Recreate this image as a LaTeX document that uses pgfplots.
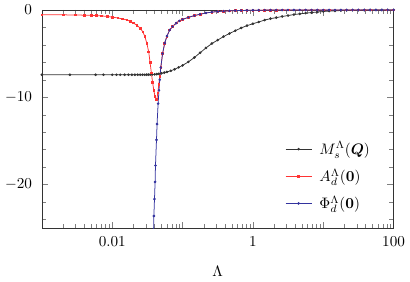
\documentclass[border=0pt]{standalone}
\usepackage{amsmath}
\usepackage{pgfplots}
\pgfplotsset{compat=1.18}
\definecolor{cblack}{rgb}{0.2,0.2,0.2}
\definecolor{cred}{rgb}{1,0.2,0.2}
\definecolor{cblue}{rgb}{0.2,0.2,0.62}
\begin{document}
\begin{tikzpicture}
\begin{axis}[
  scale only axis, width=232pt, height=144pt,
  xmode=log, xmin=0.001, xmax=100, ymin=-25, ymax=0,
  xtick={0.001,0.01,0.1,1,10,100},
  xticklabels={,$0.01$,,$1$,,$100$},
  minor xtick={0.002,0.003,0.004,0.005,0.006,0.007,0.008,0.009,0.02,0.03,0.04,0.05,0.06,0.07,0.08,0.09,0.2,0.3,0.4,0.5,0.6,0.7,0.8,0.9,2,3,4,5,6,7,8,9,20,30,40,50,60,70,80,90},
  ytick={-20,-10,0},
  minor ytick={-24,-22,-18,-16,-14,-12,-8,-6,-4,-2},
  yticklabel style={xshift=-3pt},
  xticklabel style={yshift=-2pt},
  xlabel={$\Lambda$},
  xlabel style={yshift=-6pt},
  axis line style={cblack},
  legend style={at={(0.955,0.05)}, anchor=south east, draw=none, fill=none, row sep=4pt, column sep=3pt},
  legend cell align=left,
  every axis plot/.append style={line width=0.5pt, mark=*, mark size=0.6pt},
]
\addplot[cblack, mark options={fill=cblack}] coordinates {
(0.001,-7.42) (0.0025,-7.42) (0.0058,-7.42) (0.0075,-7.42) (0.01,-7.42) (0.0115,-7.42) (0.013,-7.42) (0.015,-7.42) (0.017,-7.42) (0.019,-7.42) (0.021,-7.42) (0.023,-7.42) (0.025,-7.42) (0.027,-7.42) (0.029,-7.42) (0.031,-7.41) (0.033,-7.41) (0.035,-7.40) (0.037,-7.39) (0.04,-7.38) (0.043,-7.35) (0.046,-7.32) (0.05,-7.26) (0.055,-7.18) (0.06,-7.10) (0.068,-6.97) (0.077,-6.80) (0.088,-6.58)
(0.1,-6.35) (0.121,-5.95) (0.147,-5.45) (0.178,-4.9) (0.215,-4.35) (0.261,-3.85) (0.316,-3.45) (0.383,-3.05) (0.464,-2.7) (0.562,-2.38) (0.681,-2.06) (0.825,-1.8) (1,-1.58) (1.21,-1.38) (1.47,-1.16) (1.78,-1.0) (2.15,-0.88) (2.61,-0.75) (3.16,-0.64) (3.83,-0.53) (4.64,-0.45) (5.62,-0.37) (6.81,-0.3) (8.25,-0.24) (10,-0.18) (12.1,-0.13) (14.7,-0.1) (17.8,-0.07) (21.5,-0.05) (26.1,-0.035) (31.6,-0.025) (38.3,-0.018) (46.4,-0.012) (56.2,-0.009) (68.1,-0.006) (82.5,-0.004) (100,-0.003)
};
\addlegendentry{$M_s^\Lambda(\boldsymbol{Q})$}
\addplot[cred, mark=square*, mark size=0.55pt, mark options={fill=cred}] coordinates {
(0.001,-0.55) (0.002,-0.56) (0.003,-0.58) (0.004,-0.6) (0.005,-0.62) (0.006,-0.65) (0.007,-0.68) (0.0085,-0.75) (0.01,-0.82) (0.012,-0.92) (0.014,-1.03) (0.0162,-1.15) (0.018,-1.3) (0.02,-1.5) (0.0224,-1.75) (0.025,-2.1) (0.0272,-2.5) (0.029,-3.0) (0.031,-3.8) (0.033,-4.8) (0.0345,-6.0) (0.036,-7.2) (0.0375,-8.3) (0.039,-9.2) (0.0405,-9.9) (0.042,-10.3) (0.0432,-10.2) (0.0445,-9.5) (0.046,-8.5) (0.0475,-7.6) (0.049,-6.6) (0.052,-5.0) (0.0557,-3.8) (0.06,-3.0) (0.0656,-2.3) (0.072,-1.9) (0.0815,-1.5) (0.09,-1.25)
(0.1,-1.08) (0.121,-0.85) (0.147,-0.65) (0.178,-0.49) (0.215,-0.35) (0.261,-0.25) (0.316,-0.18) (0.383,-0.14) (0.464,-0.1) (0.562,-0.08) (0.681,-0.06) (0.825,-0.045) (1,-0.035) (1.21,-0.028) (1.47,-0.022) (1.78,-0.017) (2.15,-0.013) (2.61,-0.01) (3.16,-0.008) (3.83,-0.006) (4.64,-0.005) (5.62,-0.004) (6.81,-0.004) (8.25,-0.003) (10,-0.003) (12.1,-0.002) (14.7,-0.002) (17.8,-0.002) (21.5,-0.001) (26.1,-0.001) (31.6,-0.001) (38.3,-0.001) (46.4,-0.001) (56.2,-0.001) (68.1,-0.001) (82.5,-0.001) (100,-0.001)
};
\addlegendentry{$A_d^\Lambda(\mathbf{0})$}
\addplot[cblue, mark options={fill=cblue}] coordinates {
(0.0387,-25.3) (0.0391,-23.6) (0.0399,-21.66) (0.0407,-19.7) (0.0412,-17.82) (0.0426,-14.88) (0.0434,-13.07) (0.0449,-10.73) (0.0462,-9.2) (0.0474,-8.0) (0.049,-6.6) (0.052,-5.0) (0.0557,-3.8) (0.06,-3.0) (0.0656,-2.3) (0.072,-1.9) (0.0815,-1.5) (0.09,-1.25)
(0.1,-1.08) (0.121,-0.85) (0.147,-0.65) (0.178,-0.49) (0.215,-0.35) (0.261,-0.25) (0.316,-0.18) (0.383,-0.14) (0.464,-0.1) (0.562,-0.08) (0.681,-0.06) (0.825,-0.045) (1,-0.035) (1.21,-0.028) (1.47,-0.022) (1.78,-0.017) (2.15,-0.013) (2.61,-0.01) (3.16,-0.008) (3.83,-0.006) (4.64,-0.005) (5.62,-0.004) (6.81,-0.004) (8.25,-0.003) (10,-0.003) (12.1,-0.002) (14.7,-0.002) (17.8,-0.002) (21.5,-0.001) (26.1,-0.001) (31.6,-0.001) (38.3,-0.001) (46.4,-0.001) (56.2,-0.001) (68.1,-0.001) (82.5,-0.001) (100,-0.001)
};
\addlegendentry{$\Phi_d^\Lambda(\mathbf{0})$}
\end{axis}
\end{tikzpicture}
\end{document}
